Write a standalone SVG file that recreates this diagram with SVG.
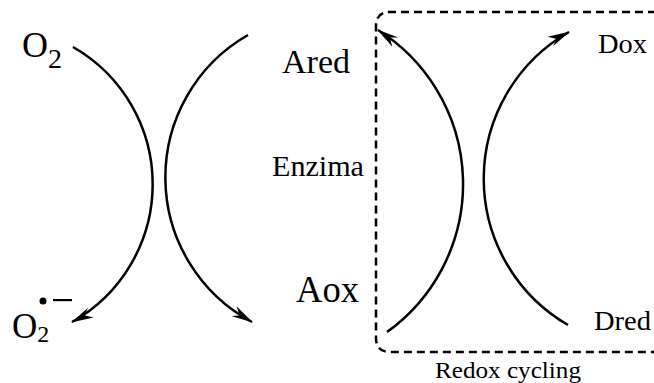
<svg xmlns="http://www.w3.org/2000/svg" width="654" height="383" viewBox="0 0 654 383">
<style>
.arc{fill:none;stroke:#000;stroke-width:2.5}
.box{fill:none;stroke:#000;stroke-width:2.5;stroke-dasharray:8 5}
text{font-family:"Liberation Serif","Times New Roman",serif;fill:#000}
</style>
<defs>
<marker id="ah" markerUnits="userSpaceOnUse" viewBox="-24 -8 26 16" refX="0" refY="0" markerWidth="26" markerHeight="16" orient="auto">
<path d="M1,0 L-21,-6.5 L-14,0 L-21,4.5 Z" fill="#000"/>
</marker>
</defs>
<rect width="654" height="383" fill="#fff"/>
<g id="connectors">
<path class="arc" d="M73,47 A158,158 0 0 1 72,322" marker-end="url(#ah)"/>
<path class="arc" d="M248,35 A164,164 0 0 0 252,322" marker-end="url(#ah)"/>
<path class="arc" d="M387,332 A182,182 0 0 0 378,30" marker-end="url(#ah)"/>
<path class="arc" d="M568,325 A169,169 0 0 1 569,32" marker-end="url(#ah)"/>
</g>
<g id="redox-box">
<path class="box" d="M656,12 L390,12 Q376,12 376,26 L376,338 Q376,352 390,352 L656,352"/>
<text x="435" y="378" font-size="23" textLength="146" lengthAdjust="spacingAndGlyphs">Redox cycling</text>
</g>
<g id="O2"><text x="22" y="57" font-size="36">O<tspan font-size="28" dy="11">2</tspan></text></g>
<g id="O2rad">
<text x="12" y="338" font-size="35">O<tspan font-size="24" dy="4">2</tspan></text>
<circle cx="43" cy="301" r="3.5" fill="#000"/>
<rect x="53" y="299" width="19" height="2.2" fill="#000"/>
</g>
<g id="Ared"><text x="282" y="73" font-size="33" textLength="68" lengthAdjust="spacingAndGlyphs">Ared</text></g>
<g id="Enzima"><text x="272" y="176" font-size="29" textLength="92" lengthAdjust="spacingAndGlyphs">Enzima</text></g>
<g id="Aox"><text x="296" y="302" font-size="38" textLength="63" lengthAdjust="spacingAndGlyphs">Aox</text></g>
<g id="Dox"><text x="598" y="53" font-size="27" textLength="49" lengthAdjust="spacingAndGlyphs">Dox</text></g>
<g id="Dred"><text x="594" y="330" font-size="28" textLength="57" lengthAdjust="spacingAndGlyphs">Dred</text></g>
</svg>
